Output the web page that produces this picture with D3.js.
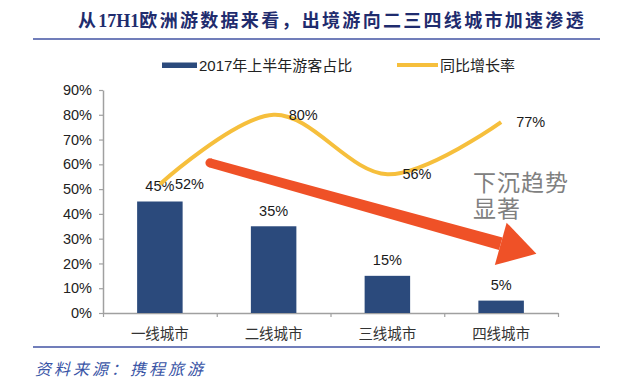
<!DOCTYPE html>
<html>
<head>
<meta charset="utf-8">
<script src="https://cdn.jsdelivr.net/npm/d3@7"></script>
<style>
  body { margin: 0; background: #fff; }
  svg { display: block; }
</style>
</head>
<body>
<svg id="chart" width="618" height="386"></svg>
<script>
// données
const categories = ["一线城市", "二线城市", "三线城市", "四线城市"];
const shareValues = [0.45, 0.35, 0.15, 0.05];
const growthValues = [0.52, 0.80, 0.56, 0.77];
const yTicks = [0, 0.1, 0.2, 0.3, 0.4, 0.5, 0.6, 0.7, 0.8, 0.9];
const seriesNames = ["2017年上半年游客占比", "同比增长率"];
const titleParts = ["从", "17H1", "欧洲游数据来看，出境游向二三四线城市加速渗透"];
const sourceText = "资料来源：携程旅游";
const noteLines = ["下沉趋势", "显著"];
// flèche de tendance : position en nombre de catégories, valeur sur l'axe
const arrowFrom = [0.94, 0.606];
const arrowTo = [3.81, 0.239];

const barColor = "#2B4A7C";
const lineColor = "#F6BF3C";
const arrowColor = "#EF5127";
const latin = "'Liberation Sans', Arial, 'Noto Sans CJK SC', sans-serif";
const cjk = "'Noto Sans CJK SC', sans-serif";

const svg = d3.select("#chart");

const plot = { left: 103, right: 558, top: 90, bottom: 313 };

const x = d3.scaleBand()
    .domain(categories)
    .range([plot.left, plot.right])
    .paddingInner(0.6)
    .paddingOuter(0.3);

// échelle des bords de catégories (ticks de l'axe x)
const xEdge = d3.scaleLinear()
    .domain([0, categories.length])
    .range([plot.left, plot.right]);

const y = d3.scaleLinear()
    .domain([0, 0.9])
    .range([plot.bottom, plot.top]);

// titre
const title = svg.append("text")
    .attr("x", 78).attr("y", 27)
    .style("font-family", "'Liberation Serif', 'Noto Sans CJK SC', serif")
    .style("font-weight", "bold")
    .style("font-size", "18px")
    .style("fill", "#1F2C6E");
title.selectAll("tspan")
    .data(titleParts)
    .join("tspan")
    .style("letter-spacing", (d, i) => i === 1 ? "0px" : "2.3px")
    .text(d => d);

svg.append("line")
    .attr("x1", 33).attr("x2", 600).attr("y1", 39).attr("y2", 39)
    .style("stroke", "#4253A3").style("stroke-width", 1.6);

svg.append("line")
    .attr("x1", 33).attr("x2", 600).attr("y1", 347).attr("y2", 347)
    .style("stroke", "#4253A3").style("stroke-width", 1.6);

svg.append("text")
    .attr("x", 35).attr("y", 375)
    .attr("textLength", 168).attr("lengthAdjust", "spacing")
    .style("font-family", cjk)
    .style("font-style", "italic")
    .style("font-size", "16px")
    .style("fill", "#3A55A6")
    .text(sourceText);

// légende
const legend = svg.append("g");
legend.append("rect")
    .attr("x", 162).attr("y", 62.5).attr("width", 35).attr("height", 5.5)
    .style("fill", barColor);
legend.append("text")
    .attr("x", 199).attr("y", 71)
    .style("font-family", latin).style("font-size", "15px").style("fill", "#222")
    .text(seriesNames[0]);
legend.append("line")
    .attr("x1", 397).attr("x2", 438).attr("y1", 65).attr("y2", 65)
    .style("stroke", lineColor).style("stroke-width", 4);
legend.append("text")
    .attr("x", 440).attr("y", 71)
    .style("font-family", cjk).style("font-size", "15px").style("fill", "#222")
    .text(seriesNames[1]);

// axe y
const yAxis = svg.append("g")
    .attr("transform", "translate(" + plot.left + ",0)")
    .call(d3.axisLeft(y).tickValues(yTicks).tickFormat(d3.format(".0%"))
        .tickSize(4).tickSizeOuter(0).tickPadding(7));
yAxis.select(".domain").style("stroke", "#A0A0A0").style("stroke-width", 1.5);
yAxis.selectAll(".tick line").style("stroke", "#A0A0A0").style("stroke-width", 1.2);
yAxis.selectAll(".tick text")
    .style("font-family", latin).style("font-size", "14.5px").style("fill", "#222");

// axe x
const xAxis = svg.append("g")
    .attr("transform", "translate(0," + plot.bottom + ")")
    .call(d3.axisBottom(xEdge).ticks(categories.length).tickFormat("")
        .tickSize(4).tickSizeOuter(0));
xAxis.select(".domain").style("stroke", "#A0A0A0").style("stroke-width", 1.5);
xAxis.selectAll(".tick line").style("stroke", "#A0A0A0").style("stroke-width", 1.2);

svg.append("g").selectAll("text")
    .data(categories)
    .join("text")
    .attr("x", d => x(d) + x.bandwidth() / 2)
    .attr("y", 339)
    .attr("text-anchor", "middle")
    .style("font-family", cjk).style("font-size", "14.5px").style("fill", "#333")
    .text(d => d);

// barres
svg.append("g").selectAll("rect")
    .data(shareValues)
    .join("rect")
    .attr("x", (d, i) => x(categories[i]))
    .attr("width", x.bandwidth())
    .attr("y", d => y(d))
    .attr("height", d => y(0) - y(d))
    .style("fill", barColor);

svg.append("g").selectAll("text")
    .data(shareValues)
    .join("text")
    .attr("x", (d, i) => x(categories[i]) + x.bandwidth() / 2)
    .attr("y", d => y(d) - 10.5)
    .attr("text-anchor", "middle")
    .style("font-family", latin).style("font-size", "14.5px").style("fill", "#1a1a1a")
    .text(d => d3.format(".0%")(d));

// courbe
const lineGen = d3.line()
    .x((d, i) => x(categories[i]) + x.bandwidth() / 2)
    .y(d => y(d))
    .curve(d3.curveCardinal);

svg.append("path")
    .datum(growthValues)
    .attr("d", lineGen)
    .style("fill", "none")
    .style("stroke", lineColor)
    .style("stroke-width", 4);

svg.append("g").selectAll("text")
    .data(growthValues)
    .join("text")
    .attr("x", (d, i) => x(categories[i]) + x.bandwidth() / 2 + 15)
    .attr("y", d => y(d))
    .attr("dy", "0.35em")
    .style("font-family", latin).style("font-size", "14.5px").style("fill", "#1a1a1a")
    .text(d => d3.format(".0%")(d));

// flèche
const step = x.step();
const S = [plot.left + arrowFrom[0] * step, y(arrowFrom[1])];
const T = [plot.left + arrowTo[0] * step, y(arrowTo[1])];
const len = Math.hypot(T[0] - S[0], T[1] - S[1]);
const u = [(T[0] - S[0]) / len, (T[1] - S[1]) / len];
const n = [-u[1], u[0]];
const headLen = 37, headHalf = 22;
const B = [T[0] - u[0] * headLen, T[1] - u[1] * headLen];
const off = (p, k) => [p[0] + n[0] * k, p[1] + n[1] * k];
const shaft = [off(S, -4.5), off(B, -6.5), off(B, 6.5), off(S, 4.5)];
const head = [off(B, -headHalf), T, off(B, headHalf)];

const arrow = svg.append("g").style("fill", arrowColor);
arrow.append("circle").attr("cx", S[0]).attr("cy", S[1]).attr("r", 4.5);
arrow.append("path").attr("d", "M" + shaft.join("L") + "Z");
arrow.append("path").attr("d", "M" + head.join("L") + "Z");

// annotation
svg.append("g").selectAll("text")
    .data(noteLines)
    .join("text")
    .attr("x", 473)
    .attr("y", (d, i) => 191 + i * 25.5)
    .style("font-family", cjk).style("font-size", "23px").style("fill", "#808080")
    .style("letter-spacing", "1px")
    .text(d => d);
</script>
</body>
</html>
